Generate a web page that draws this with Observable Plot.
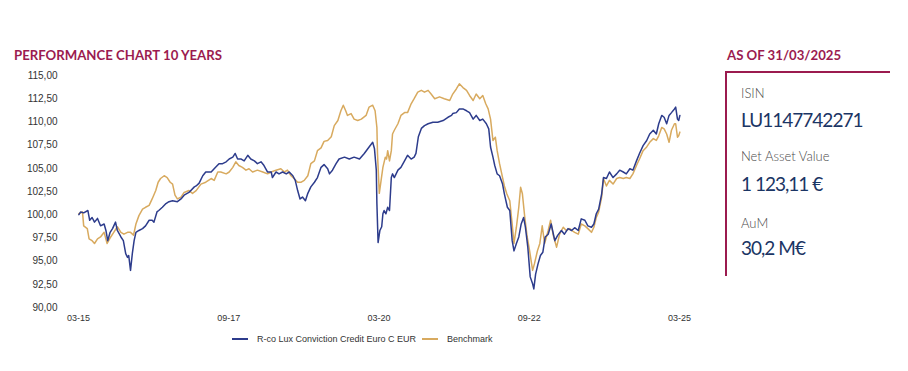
<!DOCTYPE html>
<html><head><meta charset="utf-8">
<script src="https://cdn.jsdelivr.net/npm/d3@7"></script>
<script src="https://cdn.jsdelivr.net/npm/@observablehq/plot@0.6"></script>
<style>
body{margin:0;background:#fff;}
#wrap{position:relative;width:908px;height:371px;overflow:hidden;font-family:Lato,"Noto Sans",sans-serif;}
#title,#asof{position:absolute;font-weight:700;font-size:13.2px;line-height:14px;color:#9b1b4f;white-space:nowrap;}
#title{left:14px;top:48px;}
#asof{left:727px;top:48px;}
#chart{position:absolute;left:0;top:62px;}
#box{position:absolute;left:725px;top:71px;width:163px;height:203px;border-top:2px solid #9b1b4f;border-left:2px solid #9b1b4f;}
.lab{position:absolute;left:741px;font-size:13px;line-height:13px;font-weight:300;color:#4a4a4a;white-space:nowrap;}
.val{position:absolute;left:741px;font-size:19px;line-height:19px;font-weight:400;color:#1b3564;white-space:nowrap;letter-spacing:-1px;}
#legend{position:absolute;left:232px;top:334px;display:flex;align-items:center;font-family:"Liberation Sans",Arial,sans-serif;font-size:9px;color:#333;white-space:nowrap;}
#legend .sw{display:inline-block;width:16px;height:2px;margin-right:9px;}
#legend .it{display:flex;align-items:center;margin-right:6px;}
</style></head><body>
<div id="wrap">
  <div id="title"></div>
  <div id="chart"></div>
  <div id="legend"></div>
  <div id="asof"></div>
  <div id="box"></div>
</div>
<script>
const chartTitle = "PERFORMANCE CHART 10 YEARS";
const asOfText = "AS OF 31/03/2025";
const infoLabels = ["ISIN", "Net Asset Value", "AuM"];
const infoValues = ["LU1147742271", "1 123,11 €", "30,2 M€"];
const seriesNames = ["R-co Lux Conviction Credit Euro C EUR", "Benchmark"];
const seriesColors = ["#2d3c8c", "#d8aa5f"];

// fund (decimal years, values)
const fundYears = [2015.25,2015.28,2015.33,2015.40,2015.43,2015.47,2015.51,2015.56,2015.61,2015.67,2015.70,2015.73,2015.77,2015.81,2015.86,2015.89,2015.95,2015.99,2016.03,2016.06,2016.08,2016.11,2016.14,2016.17,2016.20,2016.25,2016.31,2016.36,2016.42,2016.47,2016.50,2016.55,2016.58,2016.64,2016.70,2016.75,2016.81,2016.89,2016.95,2017.00,2017.08,2017.17,2017.20,2017.25,2017.31,2017.36,2017.45,2017.50,2017.58,2017.64,2017.70,2017.75,2017.81,2017.85,2017.89,2017.95,2018.00,2018.06,2018.11,2018.17,2018.22,2018.28,2018.33,2018.39,2018.45,2018.47,2018.53,2018.58,2018.64,2018.70,2018.75,2018.81,2018.85,2018.89,2018.93,2018.97,2019.02,2019.06,2019.11,2019.17,2019.22,2019.28,2019.33,2019.39,2019.42,2019.47,2019.53,2019.58,2019.67,2019.75,2019.83,2019.92,2020.00,2020.08,2020.14,2020.17,2020.20,2020.21,2020.23,2020.26,2020.29,2020.31,2020.33,2020.36,2020.39,2020.42,2020.45,2020.47,2020.50,2020.56,2020.61,2020.67,2020.72,2020.78,2020.83,2020.86,2020.90,2020.95,2021.00,2021.06,2021.14,2021.22,2021.31,2021.39,2021.45,2021.47,2021.53,2021.58,2021.64,2021.70,2021.75,2021.81,2021.86,2021.92,2021.97,2022.03,2022.07,2022.10,2022.14,2022.17,2022.21,2022.25,2022.30,2022.33,2022.38,2022.42,2022.46,2022.49,2022.53,2022.57,2022.61,2022.65,2022.68,2022.72,2022.76,2022.80,2022.82,2022.85,2022.89,2022.93,2022.97,2023.01,2023.06,2023.11,2023.17,2023.22,2023.28,2023.33,2023.39,2023.45,2023.50,2023.56,2023.61,2023.67,2023.72,2023.78,2023.82,2023.86,2023.90,2023.95,2023.98,2024.03,2024.08,2024.14,2024.20,2024.25,2024.31,2024.36,2024.42,2024.47,2024.53,2024.58,2024.64,2024.70,2024.75,2024.81,2024.86,2024.90,2024.95,2024.99,2025.03,2025.07,2025.11,2025.16,2025.18,2025.21,2025.23,2025.25];
const fundValues = [100.0,100.3,100.2,100.45,99.4,99.7,99.2,99.6,98.8,99.0,98.3,97.2,98.1,98.5,99.2,98.3,97.6,97.2,95.8,95.4,95.6,94.0,95.8,97.2,98.1,98.3,98.5,98.8,99.4,99.4,99.2,100.3,100.45,100.8,101.2,101.4,101.5,101.4,101.7,102.1,102.4,103.0,103.1,103.4,104.2,104.6,104.6,104.95,105.5,105.5,105.7,106.0,106.2,106.6,106.0,106.0,105.8,106.4,106.0,105.8,105.5,105.7,105.3,104.6,104.6,104.0,104.6,104.4,104.6,104.4,104.6,104.2,103.7,102.6,101.7,101.9,101.5,102.3,103.0,103.5,104.0,105.1,105.4,104.95,104.4,104.8,105.5,106.0,106.2,106.0,106.2,106.0,106.6,107.3,107.8,107.1,104.8,101.2,97.0,98.3,98.7,100.1,100.45,100.1,100.8,100.45,104.0,104.4,104.0,104.8,105.1,105.8,106.4,106.0,106.2,106.6,108.4,109.3,109.6,109.8,109.97,109.97,110.15,110.5,110.7,110.9,111.0,111.4,111.4,111.2,111.0,110.3,110.7,110.15,110.3,109.8,109.25,107.3,106.2,105.3,104.4,104.2,103.3,102.25,100.8,100.45,97.2,96.1,96.9,97.6,99.0,99.7,98.65,96.5,93.3,92.55,92.0,93.6,94.7,95.6,95.95,97.6,97.9,99.0,97.2,97.8,98.3,97.9,98.5,98.3,98.6,98.3,99.55,99.4,98.8,98.65,99.0,100.1,100.6,102.25,104.0,103.9,104.6,104.0,104.4,104.8,104.6,104.4,104.95,104.8,105.8,106.6,107.45,108.0,108.7,109.1,108.7,109.8,110.7,110.5,109.8,110.7,111.0,111.4,111.6,110.3,110.15,110.7];

// benchmark (decimal years, values)
const benchYears = [2015.25,2015.31,2015.33,2015.39,2015.42,2015.47,2015.51,2015.56,2015.61,2015.67,2015.72,2015.78,2015.83,2015.89,2015.95,2016.00,2016.06,2016.11,2016.16,2016.20,2016.25,2016.31,2016.36,2016.42,2016.47,2016.53,2016.57,2016.61,2016.67,2016.72,2016.77,2016.81,2016.85,2016.89,2016.95,2017.00,2017.08,2017.14,2017.20,2017.28,2017.36,2017.45,2017.50,2017.56,2017.61,2017.70,2017.75,2017.81,2017.86,2017.91,2017.97,2018.03,2018.08,2018.14,2018.22,2018.31,2018.39,2018.45,2018.53,2018.61,2018.67,2018.72,2018.78,2018.83,2018.89,2018.95,2019.00,2019.06,2019.11,2019.17,2019.22,2019.28,2019.33,2019.39,2019.45,2019.50,2019.56,2019.61,2019.65,2019.69,2019.72,2019.78,2019.83,2019.89,2019.95,2020.03,2020.08,2020.14,2020.18,2020.21,2020.22,2020.24,2020.25,2020.28,2020.31,2020.35,2020.37,2020.39,2020.42,2020.45,2020.47,2020.50,2020.56,2020.61,2020.67,2020.72,2020.78,2020.83,2020.89,2020.95,2021.00,2021.06,2021.11,2021.17,2021.25,2021.33,2021.42,2021.47,2021.53,2021.58,2021.64,2021.70,2021.75,2021.81,2021.86,2021.92,2021.97,2022.02,2022.06,2022.10,2022.14,2022.18,2022.21,2022.25,2022.30,2022.33,2022.37,2022.42,2022.46,2022.49,2022.53,2022.57,2022.60,2022.63,2022.67,2022.71,2022.75,2022.80,2022.83,2022.88,2022.92,2022.96,2023.00,2023.06,2023.10,2023.14,2023.20,2023.25,2023.31,2023.36,2023.42,2023.45,2023.50,2023.56,2023.61,2023.67,2023.72,2023.78,2023.82,2023.86,2023.90,2023.95,2023.98,2024.03,2024.08,2024.14,2024.20,2024.25,2024.31,2024.36,2024.42,2024.47,2024.53,2024.58,2024.64,2024.70,2024.75,2024.81,2024.86,2024.90,2024.95,2024.99,2025.03,2025.07,2025.11,2025.16,2025.18,2025.21,2025.23,2025.25];
const benchValues = [100.1,100.3,98.8,98.5,97.4,97.2,96.9,97.4,97.6,98.1,96.9,97.6,98.1,98.7,98.1,97.9,98.1,98.1,97.8,99.0,99.9,100.6,100.8,101.0,101.7,102.6,103.5,103.9,104.2,104.0,103.5,103.3,102.1,101.7,101.9,102.4,102.6,102.3,102.6,103.3,103.5,103.9,103.7,104.6,104.6,104.4,104.6,105.1,105.7,105.3,105.1,104.8,104.95,104.6,104.8,104.6,104.4,104.6,104.8,104.95,104.6,104.8,104.2,103.9,103.5,103.5,103.7,104.2,105.5,105.8,106.9,107.2,107.9,108.0,108.4,109.6,110.15,111.2,111.8,111.2,110.7,110.9,110.3,110.15,110.3,110.7,111.6,111.8,111.2,109.4,106.6,103.7,102.3,103.7,105.1,106.2,106.0,106.9,105.8,106.9,108.7,109.1,109.8,110.7,111.0,111.0,111.95,112.5,113.2,113.4,113.2,113.4,113.0,112.5,112.7,112.5,112.3,113.0,113.55,114.1,113.7,113.4,112.85,112.3,113.0,112.5,112.85,111.95,111.4,110.3,108.0,108.35,106.9,105.5,104.0,103.1,102.25,101.5,99.0,96.9,98.65,100.8,102.95,102.25,99.7,97.6,96.1,94.0,94.7,96.1,96.9,98.8,96.9,98.3,99.4,97.9,96.5,97.9,98.65,98.3,98.5,98.3,98.1,97.9,99.0,98.8,98.5,98.1,98.65,99.7,100.3,101.9,103.9,103.1,103.7,103.3,103.9,104.0,103.9,104.0,103.9,104.4,105.3,106.0,106.9,107.3,107.8,108.2,108.0,108.5,109.4,109.25,108.7,107.8,109.1,109.8,109.8,108.35,108.5,108.9];

const xTickDates = ["2015-03-31", "2017-09-30", "2020-03-31", "2022-09-30", "2025-03-31"];
const xTickLabels = ["03-15", "09-17", "03-20", "09-22", "03-25"];
const yTicks = [90, 92.5, 95, 97.5, 100, 102.5, 105, 107.5, 110, 112.5, 115];
const yTickLabels = ["90,00", "92,50", "95,00", "97,50", "100,00", "102,50", "105,00", "107,50", "110,00", "112,50", "115,00"];

const toDate = t => { const y = Math.floor(t); return new Date(Date.UTC(y, 0, 1) + (t - y) * 365.25 * 864e5); };
const rows = [];
fundYears.forEach((t, i) => rows.push({date: toDate(t), value: fundValues[i], series: seriesNames[0]}));
benchYears.forEach((t, i) => rows.push({date: toDate(t), value: benchValues[i], series: seriesNames[1]}));
const xTicks = xTickDates.map(s => new Date(s + "T00:00:00Z"));

const chart = Plot.plot({
  width: 700, height: 270,
  marginTop: 13, marginBottom: 25, marginLeft: 78, marginRight: 21,
  style: {fontFamily: "'Liberation Sans', Arial, sans-serif", fontSize: "10px", color: "#333", background: "transparent"},
  x: {type: "utc", domain: [xTicks[0], xTicks[xTicks.length - 1]]},
  y: {domain: [90, 115]},
  color: {domain: seriesNames, range: seriesColors},
  marks: [
    Plot.axisY({ticks: yTicks, tickSize: 0, tickPadding: 21, tickFormat: d => yTickLabels[yTicks.indexOf(d)], label: null}),
    Plot.axisX({ticks: xTicks, tickSize: 0, tickPadding: 7, tickFormat: d => xTickLabels[xTicks.findIndex(v => +v === +d)], label: null, fontSize: 9}),
    Plot.line(rows.filter(r => r.series === seriesNames[1]), {x: "date", y: "value", stroke: "series", strokeWidth: 1.5}),
    Plot.line(rows.filter(r => r.series === seriesNames[0]), {x: "date", y: "value", stroke: "series", strokeWidth: 1.5})
  ]
});
document.getElementById("chart").appendChild(chart);

document.getElementById("title").textContent = chartTitle;
document.getElementById("asof").textContent = asOfText;
const wrap = document.getElementById("wrap");
const labTops = [87, 150, 217];
const valTops = [110, 174, 238];
infoLabels.forEach((s, i) => {
  const a = document.createElement("div"); a.className = "lab"; a.style.top = labTops[i] + "px"; a.textContent = s; wrap.appendChild(a);
  const b = document.createElement("div"); b.className = "val"; b.style.top = valTops[i] + "px"; b.textContent = infoValues[i]; wrap.appendChild(b);
});
const legend = document.getElementById("legend");
seriesNames.forEach((n, i) => {
  const it = document.createElement("span"); it.className = "it";
  const sw = document.createElement("span"); sw.className = "sw"; sw.style.background = seriesColors[i];
  const tx = document.createElement("span"); tx.textContent = n;
  it.appendChild(sw); it.appendChild(tx); legend.appendChild(it);
});
</script>
</body></html>
